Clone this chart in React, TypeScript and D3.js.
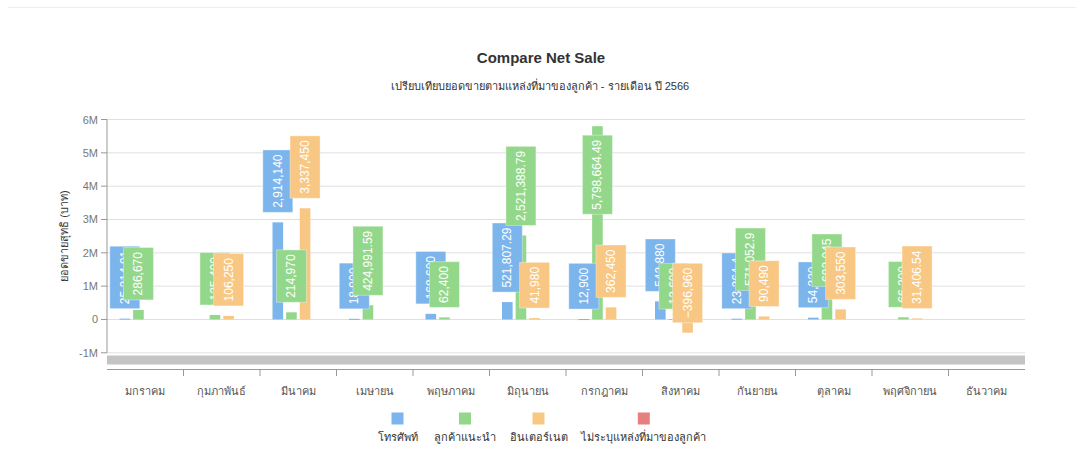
import React from "react";
import * as d3 from "d3";

const months = ["มกราคม", "กุมภาพันธ์", "มีนาคม", "เมษายน", "พฤษภาคม", "มิถุนายน", "กรกฎาคม", "สิงหาคม", "กันยายน", "ตุลาคม", "พฤศจิกายน", "ธันวาคม"];
const seriesNames = ["โทรศัพท์", "ลูกค้าแนะนำ", "อินเตอร์เนต", "ไม่ระบุแหล่งที่มาของลูกค้า"];
const seriesColors = ["#7cb5ec", "#93d88a", "#f9c784", "#e67f7f"];
const phone: (number | null)[] = [25214.91, null, 2914140, 18900, 168600, 521807.29, 12900, 543880, 23264.4, 54320, null, null];
const referral: (number | null)[] = [286670, 135400, 214970, 424991.59, 62400, 2521388.79, 5798664.49, 13600, 571052.9, 692045, 66200, null];
const internet: (number | null)[] = [null, 106250, 3337450, null, null, 41980, 362450, -396960, 90490, 303550, 31406.54, null];
const unknownSrc: (number | null)[] = [null, null, null, null, null, null, null, null, null, null, null, null];
const yTicks = [-1000000, 0, 1000000, 2000000, 3000000, 4000000, 5000000, 6000000];
const titleText = "Compare Net Sale";
const subtitleText = "เปรียบเทียบยอดขายตามแหล่งที่มาของลูกค้า - รายเดือน ปี 2566";
const yAxisTitle = "ยอดขายสุทธิ (บาท)";

const allSeries = [phone, referral, internet, unknownSrc];
const FONT = "'Liberation Sans', Arial, 'Noto Sans', sans-serif";

let ctx: CanvasRenderingContext2D | null = null;
function textWidth(t: string, font: string) {
  if (!ctx) ctx = document.createElement("canvas").getContext("2d");
  if (!ctx) return t.length * 6.5;
  ctx.font = font;
  return ctx.measureText(t).width;
}

export default function App() {
  const left = 107, right = 1025, top = 119.5;
  const x = d3.scaleBand<string>().domain(months).range([left, right]).paddingInner(0).paddingOuter(0);
  const bw = x.bandwidth();
  const inner = d3.scaleBand<number>().domain([0, 1, 2, 3]).range([bw / 2 - 25.75, bw / 2 + 25.75]).paddingInner(0.22).paddingOuter(0);
  const y = d3.scaleLinear().domain([-1000000, 6000000]).range([352.8, 119.5]);
  const fmt = d3.format(",");
  const labelFont = `12px ${FONT}`;

  const bars: JSX.Element[] = [];
  const labels: JSX.Element[] = [];
  allSeries.forEach((vals, si) => {
    vals.forEach((v, mi) => {
      if (v === null || v === undefined) return;
      const bx = (x(months[mi]) as number) + (inner(si) as number);
      const w = inner.bandwidth();
      const y0 = y(0), y1 = y(v);
      bars.push(
        <rect key={`b${si}-${mi}`} x={bx} y={Math.min(y0, y1)} width={w} height={Math.max(1, Math.abs(y1 - y0))} fill={seriesColors[si]} />
      );
      const txt = fmt(v);
      const h = textWidth(txt, labelFont) + 9;
      const bwid = 30;
      const cx = bx + w / 2;
      let boxTop = y1 - 10 - h;
      if (boxTop < top) boxTop = y1 + 9;
      const cy = boxTop + h / 2;
      labels.push(
        <g key={`l${si}-${mi}`}>
          <rect x={cx - bwid / 2} y={boxTop} width={bwid} height={h} fill={seriesColors[si]} stroke="#ffffff" strokeOpacity={0.35} strokeWidth={1} />
          <text x={cx} y={cy} transform={`rotate(-90 ${cx} ${cy})`} textAnchor="middle" dominantBaseline="central" fill="#ffffff" fontSize={12} fontFamily={FONT}>{txt}</text>
        </g>
      );
    });
  });

  const legendCenters = [397.5, 465, 538.5, 643.8];

  return (
    <svg width={1084} height={457} style={{ position: "absolute", left: 0, top: 0, background: "#fff" }} fontFamily={FONT}>
      <line x1={8} x2={1076} y1={7.5} y2={7.5} stroke="#eeeeee" />
      <text x={541} y={63} textAnchor="middle" fontSize={15} fontWeight="bold" fill="#333">{titleText}</text>
      <text x={540} y={90} textAnchor="middle" fontSize={11} fill="#333">{subtitleText}</text>
      {yTicks.map((t) => (
        <g key={`g${t}`}>
          <line x1={left} x2={right} y1={y(t)} y2={y(t)} stroke="#e0e0e0" strokeWidth={1} />
          <line x1={left - 6} x2={left} y1={y(t)} y2={y(t)} stroke="#999" />
          <text x={left - 9} y={y(t)} textAnchor="end" dominantBaseline="central" fontSize={11} fill="#777">{t === 0 ? "0" : `${t / 1000000}M`}</text>
        </g>
      ))}
      <line x1={left} x2={left} y1={top} y2={y(-1000000)} stroke="#999" />
      <text x={64} y={236} transform="rotate(-90 64 236)" textAnchor="middle" dominantBaseline="central" fontSize={11} fill="#333">{yAxisTitle}</text>
      {bars}
      {labels}
      <rect x={left} y={355.5} width={right - left} height={9} fill="#c4c4c4" />
      <line x1={left} x2={right} y1={369.5} y2={369.5} stroke="#999" />
      {months.map((m, i) => (
        <g key={m}>
          {i > 0 && <line x1={x(m) as number} x2={x(m) as number} y1={369.5} y2={376} stroke="#999" />}
          <text x={(x(m) as number) + bw / 2} y={391} textAnchor="middle" dominantBaseline="central" fontSize={11} fill="#555">{m}</text>
        </g>
      ))}
      {seriesNames.map((s, i) => (
        <g key={s}>
          <rect x={legendCenters[i] - 6} y={412.5} width={12} height={12} fill={seriesColors[i]} />
          <text x={legendCenters[i]} y={437} textAnchor="middle" dominantBaseline="central" fontSize={11} fill="#333">{s}</text>
        </g>
      ))}
    </svg>
  );
}
